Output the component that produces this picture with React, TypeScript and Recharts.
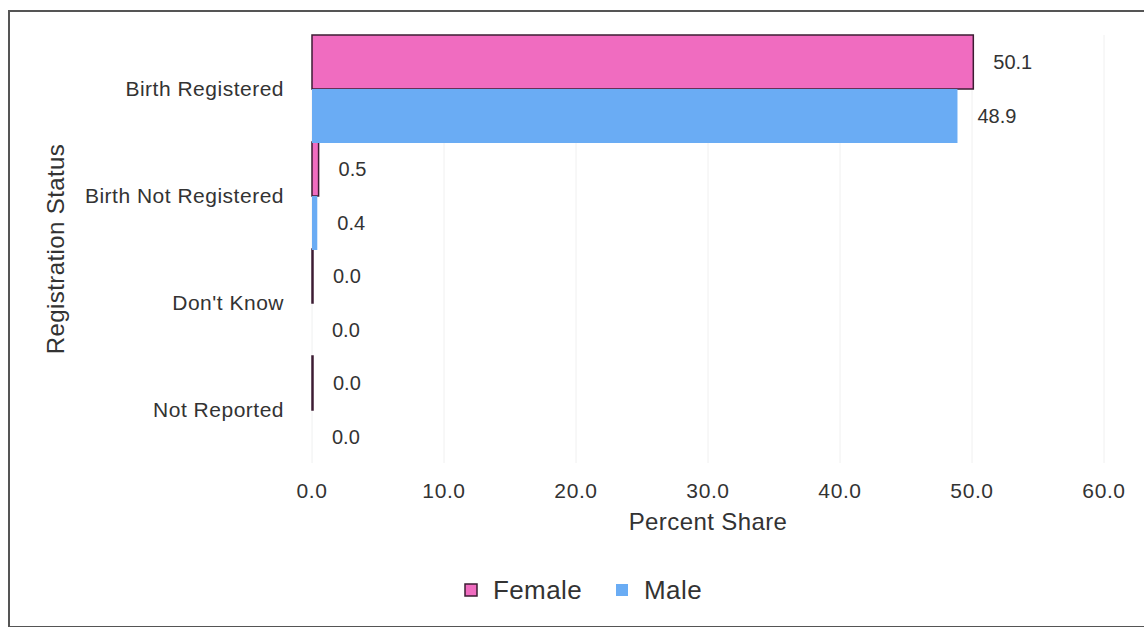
import {
  BarChart,
  Bar,
  XAxis,
  YAxis,
  CartesianGrid,
  Legend,
  LabelList,
} from "recharts";

const categories = [
  "Birth Registered",
  "Birth Not Registered",
  "Don't Know",
  "Not Reported",
];
const femaleValues = [50.1, 0.5, 0.0, 0.0];
const maleValues = [48.9, 0.4, 0.0, 0.0];
const xTicks = [0, 10, 20, 30, 40, 50, 60];

const FEMALE = "#f06cc0";
const FEMALE_EDGE = "#3d1c33";
const MALE = "#6aacf4";
const TEXT = "#333";
const FONT = "'Liberation Sans', Arial, sans-serif";

const data = categories.map((name, i) => ({
  name,
  Female: femaleValues[i],
  Male: maleValues[i],
}));

const fmt = (v: number) => Number(v).toFixed(1);

function LegendBox() {
  const items = [
    { label: "Female", fill: FEMALE, stroke: FEMALE_EDGE },
    { label: "Male", fill: MALE, stroke: "none" },
  ];
  return (
    <div
      style={{
        display: "flex",
        justifyContent: "center",
        alignItems: "center",
        height: 40,
        gap: 33,
        paddingLeft: 62,
        fontFamily: FONT,
        fontSize: 26,
        letterSpacing: 0.4,
        color: TEXT,
      }}
    >
      {items.map((it) => (
        <div key={it.label} style={{ display: "flex", alignItems: "center" }}>
          <svg width={14} height={14} style={{ marginRight: 15 }}>
            <rect
              x={1}
              y={1}
              width={12}
              height={12}
              fill={it.fill}
              stroke={it.stroke}
              strokeWidth={1.5}
            />
          </svg>
          <span>{it.label}</span>
        </div>
      ))}
    </div>
  );
}

export default function App() {
  return (
    <div
      style={{
        position: "absolute",
        left: 0,
        top: 0,
        width: 1144,
        height: 627,
        overflow: "hidden",
        background: "#fff",
        fontFamily: FONT,
      }}
    >
      <div
        style={{
          position: "absolute",
          left: 8,
          top: 10,
          width: 1200,
          height: 614,
          border: "2px solid #555",
        }}
      />
      <div style={{ position: "absolute", left: 0, top: 0 }}>
        <BarChart
          width={1144}
          height={627}
          data={data}
          layout="vertical"
          margin={{ top: 35, right: 40, left: 0, bottom: 17 }}
          barCategoryGap={0}
          barGap={0}
          style={{ fontFamily: FONT }}
        >
          <CartesianGrid horizontal={false} stroke="#f0f0f0" />
          <XAxis
            type="number"
            domain={[0, 60]}
            ticks={xTicks}
            tickFormatter={fmt}
            axisLine={false}
            tickLine={false}
            tickSize={0}
            tickMargin={20}
            height={107}
            tick={{ fill: TEXT, fontSize: 21, fontFamily: FONT, letterSpacing: 0.6 }}
            label={{
              value: "Percent Share",
              position: "insideBottom",
              offset: 40,
              fill: TEXT,
              fontSize: 24,
              fontFamily: FONT,
              style: { letterSpacing: 0.4 },
            }}
          />
          <YAxis
            type="category"
            dataKey="name"
            width={312}
            axisLine={false}
            tickLine={false}
            tickSize={0}
            tickMargin={28}
            tick={{ fill: TEXT, fontSize: 21, fontFamily: FONT, letterSpacing: 0.5 }}
            label={{
              value: "Registration Status",
              angle: -90,
              position: "insideLeft",
              offset: 55,
              fill: TEXT,
              fontSize: 24,
              fontFamily: FONT,
              style: { textAnchor: "middle", letterSpacing: 0.4 },
            }}
          />
          <Legend verticalAlign="bottom" content={() => <LegendBox />} />
          <Bar
            dataKey="Female"
            fill={FEMALE}
            stroke={FEMALE_EDGE}
            strokeWidth={1.5}
            minPointSize={1}
            isAnimationActive={false}
          >
            <LabelList
              dataKey="Female"
              position="right"
              offset={20}
              formatter={fmt}
              fill={TEXT}
              fontSize={20}
              fontFamily={FONT}
            />
          </Bar>
          <Bar
            dataKey="Male"
            fill={MALE}
            minPointSize={0.01}
            isAnimationActive={false}
          >
            <LabelList
              dataKey="Male"
              position="right"
              offset={20}
              formatter={fmt}
              fill={TEXT}
              fontSize={20}
              fontFamily={FONT}
            />
          </Bar>
        </BarChart>
      </div>
    </div>
  );
}
